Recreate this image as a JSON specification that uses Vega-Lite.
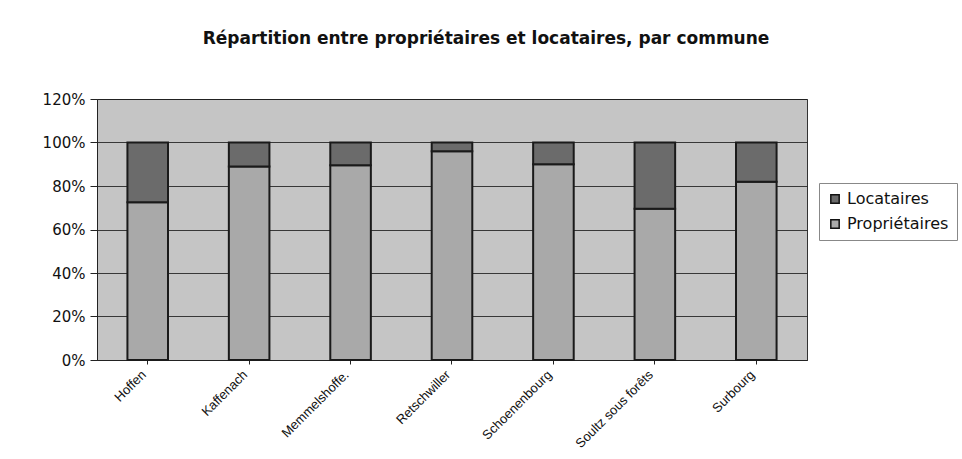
{
  "$schema": "https://vega.github.io/schema/vega-lite/v6.json",
  "autosize": "none",
  "width": 710,
  "height": 261,
  "padding": {"left": 97, "top": 99, "right": 155, "bottom": 99},
  "background": "white",
  "title": {
    "text": "Répartition entre propriétaires et locataires, par commune",
    "font": "DejaVu Sans",
    "fontSize": 17,
    "fontWeight": "bold",
    "color": "#111111",
    "anchor": "middle",
    "frame": "group",
    "dx": 34,
    "offset": 44
  },
  "config": {
    "view": {"fill": "#c5c5c5", "stroke": "#333333", "strokeWidth": 1},
    "axis": {"labelFont": "DejaVu Sans", "labelColor": "#111111"}
  },
  "data": {
    "values": [
      {"commune": "Hoffen", "type": "Propriétaires", "part": 0.725},
      {"commune": "Hoffen", "type": "Locataires", "part": 0.275},
      {"commune": "Kaffenach", "type": "Propriétaires", "part": 0.89},
      {"commune": "Kaffenach", "type": "Locataires", "part": 0.11},
      {"commune": "Memmelshoffe.", "type": "Propriétaires", "part": 0.895},
      {"commune": "Memmelshoffe.", "type": "Locataires", "part": 0.105},
      {"commune": "Retschwiller", "type": "Propriétaires", "part": 0.96},
      {"commune": "Retschwiller", "type": "Locataires", "part": 0.04},
      {"commune": "Schoenenbourg", "type": "Propriétaires", "part": 0.9},
      {"commune": "Schoenenbourg", "type": "Locataires", "part": 0.1},
      {"commune": "Soultz sous forêts", "type": "Propriétaires", "part": 0.695},
      {"commune": "Soultz sous forêts", "type": "Locataires", "part": 0.305},
      {"commune": "Surbourg", "type": "Propriétaires", "part": 0.82},
      {"commune": "Surbourg", "type": "Locataires", "part": 0.18}
    ]
  },
  "mark": {"type": "bar", "stroke": "#1a1a1a", "strokeWidth": 2},
  "encoding": {
    "x": {
      "field": "commune",
      "type": "nominal",
      "sort": null,
      "title": null,
      "scale": {"paddingInner": 0.6, "paddingOuter": 0.3},
      "axis": {
        "labelAngle": -45,
        "labelAlign": "right",
        "labelBaseline": "top",
        "labelFont": "Liberation Sans",
        "labelFontSize": 13,
        "labelPadding": 4,
        "labelOffset": -8,
        "domainColor": "#222222",
        "tickColor": "#222222",
        "tickSize": 4
      }
    },
    "y": {
      "field": "part",
      "type": "quantitative",
      "stack": "zero",
      "title": null,
      "scale": {"domain": [0, 1.2]},
      "axis": {
        "values": [0, 0.2, 0.4, 0.6, 0.8, 1.0, 1.2],
        "format": ".0%",
        "labelFontSize": 15,
        "labelPadding": 5,
        "gridColor": "#1f1f1f",
        "gridWidth": 1.2,
        "gridOpacity": 0.85,
        "domainColor": "#222222",
        "tickColor": "#222222",
        "tickSize": 7
      }
    },
    "color": {
      "field": "type",
      "type": "nominal",
      "scale": {"domain": ["Locataires", "Propriétaires"], "range": ["#6b6b6b", "#a9a9a9"]},
      "legend": {
        "title": null,
        "orient": "none",
        "legendX": 722,
        "legendY": 84,
        "symbolType": "square",
        "symbolSize": 70,
        "symbolStrokeColor": "#111111",
        "symbolStrokeWidth": 1.5,
        "labelFont": "DejaVu Sans",
        "labelFontSize": 16,
        "labelColor": "#111111",
        "rowPadding": 9,
        "padding": 8,
        "strokeColor": "#888888",
        "fillColor": "white"
      }
    },
    "order": {"field": "type", "sort": "descending"}
  }
}
